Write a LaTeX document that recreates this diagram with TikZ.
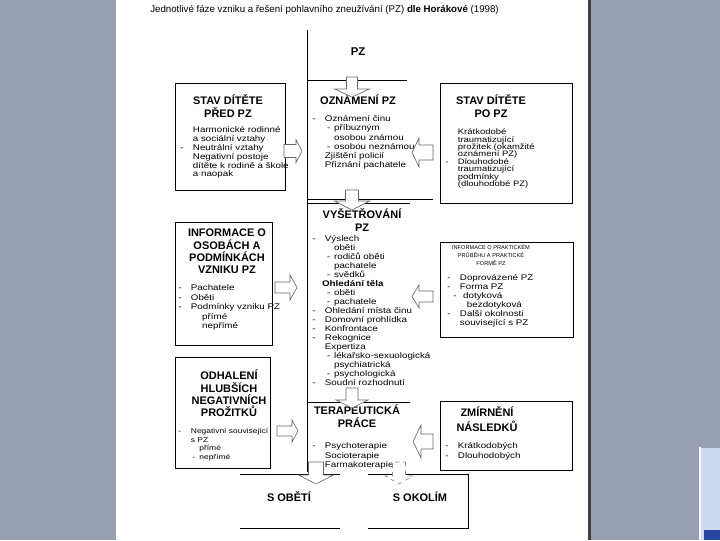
\documentclass[tikz,border=0pt]{standalone}
\usepackage{fontspec}
\setmainfont{Liberation Sans}
\newfontfamily\scanfont[FakeStretch=1.2]{Liberation Sans}
\usetikzlibrary{fit}

\definecolor{slidegrey}{RGB}{152,159,179}
\definecolor{stripblue}{RGB}{206,216,240}
\definecolor{stripdark}{RGB}{40,70,160}

\newcommand{\dashA}{\makebox[9pt][l]{-}}
\newcommand{\indA}{\hspace*{9pt}}
\newcommand{\dashB}{\hspace*{10.5pt}\makebox[5pt][l]{-}}
\newcommand{\indB}{\hspace*{15.5pt}}
% [style] {centre} {angle} {length} {head width} {shaft width} {head length}
\newcommand{\blockarrow}[7][]{%
  \draw[arrowline,#1,shift={#2},rotate=#3] (-#4/2,-#6/2) -- ({#4/2-#7},-#6/2)
    -- ({#4/2-#7},-#5/2) -- (#4/2,0) -- ({#4/2-#7},#5/2) -- ({#4/2-#7},#6/2)
    -- (-#4/2,#6/2) -- cycle;}

\begin{document}
\begin{tikzpicture}[x=0.025cm,y=-0.025cm,
  boxline/.style={draw=black,line width=0.6pt},
  framebox/.style={boxline,inner sep=0pt},
  headtext/.style={font=\fontsize{7.8}{#1}\selectfont\bfseries,align=center,inner sep=0pt},
  headtext/.default=8.8,
  bodytext/.style={font=\scanfont\fontsize{5.8}{#1}\selectfont,align=left,inner sep=0pt,anchor=north west},
  bodytext/.default=6.3,
  arrowline/.style={draw=black!60,fill=white,line width=0.45pt,line join=miter}]
\useasboundingbox (0,0) rectangle (720,540);

% slide and page
\fill[slidegrey] (0,0) rectangle (720,540);
\fill[white] (116,0) rectangle (588,540);
\fill[black!75] (588,0) rectangle (591,540);
\fill[white] (699,447) rectangle (701,540);
\fill[stripblue] (701,448) rectangle (720,540);
\fill[stripdark] (704,530) rectangle (720,540);

\node[anchor=west,inner sep=0pt,font=\fontsize{6.9}{8}\selectfont] (title) at (150,10)
  {Jednotlivé fáze vzniku a řešení pohlavního zneužívání (PZ) \textbf{dle Horákové} (1998)};

% middle column
\draw[boxline] (307,30) -- (307,472);
\draw[boxline] (307,80) -- (407,80);
\draw[boxline] (307,199) -- (433,199);
\draw[boxline] (307,203) -- (410,203);
\draw[boxline] (307,402) -- (410,402);
\node[font=\fontsize{8}{9}\selectfont\bfseries] (pz) at (358,52) {PZ};

% side boxes
\node[framebox,fit={(175,83) (285,190)}] (pred) {};
\node[framebox,fit={(440,83) (572,203)}] (po) {};
\node[framebox,fit={(175,222) (272,345)}] (info) {};
\node[framebox,fit={(440,242) (573,337)}] (prak) {};
\node[framebox,fit={(175,357) (270,468)}] (odh) {};
\node[framebox,fit={(440,401) (572,470)}] (zmir) {};

% bottom boxes
\draw[boxline] (240,474) -- (340,474);
\draw[boxline] (240,528) -- (340,528);
\draw[boxline] (368,474) -- (468,474) -- (468,528) -- (368,528);

% headings
\node[headtext=9.2] (hpred) at (228,106.5) {STAV DÍTĚTE\\PŘED PZ};
\node[headtext] (hozn) at (358,100) {OZNÁMENÍ PZ};
\node[headtext] (hpo) at (491,106) {STAV DÍTĚTE\\PO PZ};
\node[headtext] (hinfo) at (227,251.5) {INFORMACE O\\OSOBÁCH A\\PODMÍNKÁCH\\VZNIKU PZ};
\node[headtext] (hvys) at (362,220) {VYŠETŘOVÁNÍ\\PZ};
\node[font=\fontsize{4}{5.7}\selectfont,align=center,inner sep=0pt] (hprak) at (491,255)
  {INFORMACE O PRAKTICKÉM\\PRŮBĚHU A PRAKTICKÉ\\FORMĚ PZ};
\node[headtext] (hodh) at (229,393.5) {ODHALENÍ\\HLUBŠÍCH\\NEGATIVNÍCH\\PROŽITKŮ};
\node[headtext] (hter) at (357,416) {TERAPEUTICKÁ\\PRÁCE};
\node[headtext=10.5] (hzmir) at (487,419) {ZMÍRNĚNÍ\\NÁSLEDKŮ};
\node[headtext] (sobeti) at (289,497) {S OBĚTÍ};
\node[headtext] (sokoli) at (420,497) {S OKOLÍM};

% texts
\node[bodytext=6.26] (tpred) at (180,126.5) {\indA Harmonické rodinné\\
  \indA a sociální vztahy\\
  \dashA Neutrální vztahy\\
  \indA Negativní postoje\\
  \indA dítěte k rodině a škole\\
  \indA a naopak};
\node[bodytext=6.5] (tozn) at (312,115.5) {\dashA Oznámení činu\\
  \dashB příbuzným\\
  \indB osobou známou\\
  \dashB osobou neznámou\\
  \indA Zjištění policií\\
  \indA Přiznání pachatele};
\node[bodytext=5.3,font=\scanfont\fontsize{5.6}{5.3}\selectfont] (tpo) at (445,128.5) {\indA Krátkodobé\\
  \indA traumatizující\\
  \indA prožitek (okamžité\\
  \indA oznámení PZ)\\
  \dashA Dlouhodobé\\
  \indA traumatizující\\
  \indA podmínky\\
  \indA (dlouhodobé PZ)};
\node[bodytext=6.75] (tinfo) at (178,284.5) {\dashA Pachatele\\
  \dashA Oběti\\
  \dashA Podmínky vzniku PZ\\
  \hspace*{17pt}přímé\\
  \hspace*{17pt}nepřímé};
\node[bodytext=6.4] (tvys) at (312,235.5) {\dashA Výslech\\
  \indB oběti\\
  \dashB rodičů oběti\\
  \indB pachatele\\
  \dashB svědků\\
  \hspace*{7pt}\textbf{Ohledání těla}\\
  \dashB oběti\\
  \dashB pachatele\\
  \dashA Ohledání místa činu\\
  \dashA Domovní prohlídka\\
  \dashA Konfrontace\\
  \dashA Rekognice\\
  \indA Expertiza\\
  \dashB lékařsko-sexuologická\\
  \indB psychiatrická\\
  \dashB psychologická\\
  \dashA Soudní rozhodnutí};
\node[bodytext=6.4] (tprak) at (447,274.5) {\dashA Doprovázené PZ\\
  \dashA Forma PZ\\
  \hspace*{4.3pt}\makebox[7pt][l]{-}dotyková\\
  \hspace*{14pt}bezdotyková\\
  \dashA Další okolnosti\\
  \indA související s PZ};
\node[bodytext=6.1,font=\scanfont\fontsize{5}{6.1}\selectfont] (todh) at (178,428) {\dashA Negativní související\\
  \indA s PZ\\
  \hspace*{15pt}přímé\\
  \hspace*{10pt}\makebox[5pt][l]{-}nepřímé};
\node[bodytext=6.7] (tter) at (312,442.5) {\dashA Psychoterapie\\
  \indA Socioterapie\\
  \indA Farmakoterapie};
\node[bodytext=7] (tzmir) at (445,442.5) {\dashA Krátkodobých\\
  \dashA Dlouhodobých};

% block arrows
\blockarrow{(352,87)}{-90}{20}{35}{11}{8}
\blockarrow{(352,200)}{-90}{20}{35}{13}{9}
\blockarrow{(352,398)}{-90}{20}{32}{12}{8}
\blockarrow{(316,473)}{-90}{22}{35}{15}{9}
\blockarrow[draw=black!45,dashed]{(399,473)}{-90}{22}{27}{13}{8}
\blockarrow{(293,151)}{0}{18}{23}{13}{6}
\blockarrow{(286,287.5)}{0}{22}{25}{11}{7}
\blockarrow{(287.5,431)}{0}{21}{22}{10}{6}
\blockarrow{(422.5,152.5)}{180}{21}{29}{15}{7}
\blockarrow{(422.5,296.5)}{180}{21}{23}{11}{7}
\blockarrow{(423,441.5)}{180}{20}{33}{15}{8}
\end{tikzpicture}
\end{document}
